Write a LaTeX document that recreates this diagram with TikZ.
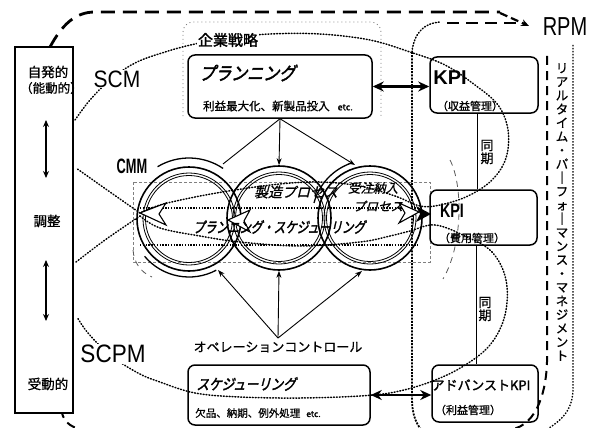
\documentclass[tikz,border=0pt]{standalone}
\usepackage{fontspec}
\usepackage{graphicx}
\setmainfont{Liberation Sans}
\newfontfamily\jp[FakeBold=0.8]{Noto Sans CJK JP}
\newfontfamily\jpb[FakeBold=1.8]{Noto Sans CJK JP}
\newfontfamily\jpbi[FakeBold=2.5,FakeSlant=0.3]{Noto Sans CJK JP}
\newfontfamily\jpi[FakeBold=0.8,FakeSlant=0.25]{Noto Sans CJK JP}
\usetikzlibrary{arrows.meta}
\newcommand\fsz[1]{\fontsize{#1}{#1}\selectfont}
\tikzset{
 bx/.style={draw, line width=1.5pt, rounded corners=7pt, inner sep=0pt},
 dotc/.style={line width=1.5pt, dash pattern=on 0.9pt off 2pt, line cap=round},
 bigdash/.style={line width=2.8pt, dash pattern=on 14pt off 8pt},
 thkdot/.style={line width=2.4pt, dash pattern=on 1.4pt off 1.4pt},
 dblarr/.style={line width=2.6pt, {Stealth[length=11pt,width=10pt]}-{Stealth[length=11pt,width=10pt]}},
 arr/.style={line width=0.9pt, -{Stealth[length=7pt,width=5pt]}},
 larr/.style={line width=1.3pt, {Stealth[length=7pt,width=6pt]}-{Stealth[length=7pt,width=6pt]}},
 ring/.style={circle, draw, line width=1.6pt, minimum size=104pt, inner sep=0pt},
 wtxt/.style={fill=white, inner sep=1pt},
}
\begin{document}
\begin{tikzpicture}[x=1pt,y=-1pt]
\useasboundingbox (0,0) rectangle (594,428);
\fill[white] (0,0) rectangle (594,428);

% ---------- large dashed boundary ----------
\draw[bigdash] (50,47) .. controls (62,25) and (75,12) .. (95,12) -- (500,12);
\draw[line width=2.2pt, dash pattern=on 8pt off 4pt, -{Stealth[length=8pt,width=7pt]}] (500,13) -- (529,26);
\draw[line width=2pt, dash pattern=on 9pt off 6pt] (547,56) -- (547,362) .. controls (546,395) and (535,430) .. (505,430) -- (90,430) .. controls (72,430) and (64,422) .. (62,413);

% ---------- RPM region ----------
\draw[line width=1.8pt, dash pattern=on 2pt off 1.2pt] (412,52) -- (412,398) .. controls (412,415) and (416,425) .. (425,434);
\draw[dotc] (412,52) .. controls (414,32) and (425,23) .. (440,22);
\draw[line width=1.3pt, dash pattern=on 12pt off 7pt] (447,23) -- (522,23);
\draw[line width=1.3pt, dash pattern=on 1.5pt off 1.5pt] (573,45) -- (573,388) .. controls (573,410) and (562,420) .. (546,430);

% ---------- planning region ----------
\draw[gray, line width=0.8pt, dash pattern=on 1pt off 3pt, rounded corners=10pt] (183,116) -- (183,22) -- (381,22) -- (381,116);

% ---------- CMM region ----------
\draw[gray, line width=0.5pt, dash pattern=on 3pt off 2pt] (133,182) rectangle (430,262);
\draw[gray!70!black, line width=0.8pt, dash pattern=on 6pt off 5pt] (450,160) .. controls (463,185) and (463,245) .. (443,279);
\draw[gray!70!black, line width=0.8pt, dash pattern=on 6pt off 5pt] (133,250) .. controls (134,262) and (140,272) .. (152,277);

% ---------- SCM / SCPM dotted curves ----------
\draw[dotc] plot[smooth, tension=0.6] coordinates {(75,120) (90,100) (110,80) (135,63) (165,52) (195,44) (230,38) (270,34) (320,34) (370,40) (410,52) (445,65) (475,85) (498,105) (508,130) (506,158) (492,180) (468,196) (440,205) (420,206) (395,196) (360,186) (320,182) (280,184) (235,190) (195,197) (160,205) (140,213)};
\draw[dotc] plot[smooth] coordinates {(140,213) (110,192) (76,168)};
\draw[dotc] plot[smooth] coordinates {(76,262) (105,240) (140,216)};
\draw[dotc] plot[smooth, tension=0.6] coordinates {(140,216) (160,228) (200,236) (240,242) (300,246) (360,242) (390,236) (410,231) (435,225) (465,236) (492,252) (506,280) (505,315) (490,345) (462,367) (430,382) (395,392) (360,396) (300,398) (240,397) (195,393) (160,382) (138,373) (110,355) (88,333) (77,317)};

% ---------- left box ----------
\node[draw, line width=1.6pt, minimum width=58pt, minimum height=366pt, inner sep=0pt] (lbox) at (44,230) {};
\node[font=\jp\fsz{13.5}] (jihatsu) at (48,72) {自発的};
\node[font=\jp\fsz{12.5}, anchor=west, inner sep=0pt] (noudou) at (20,88) {（能動的）};
\node[font=\jp\fsz{13.5}] (chousei) at (47,221) {調整};
\node[font=\jp\fsz{13.5}] (judou) at (48,384) {受動的};
\coordinate (a1t) at (46,120); \coordinate (a1b) at (46,178);
\coordinate (a2t) at (46,260); \coordinate (a2b) at (46,321);
\draw[larr] (a1t) -- (a1b);
\draw[larr] (a2t) -- (a2b);

% ---------- labels ----------
\node[wtxt, font=\fsz{21}] (scm) at (117,79) {\scalebox{1}[1.13]{SCM}};
\node[wtxt, font=\fsz{22.5}] (scpm) at (113,354) {\scalebox{1}[1.12]{SCPM}};
\node[font=\bfseries\fsz{16}] (cmm) at (132,166) {\scalebox{0.8}[1.3]{CMM}};
\node[wtxt, font=\fsz{20}] (rpm) at (565,27) {\scalebox{1}[1.3]{RPM}};
\node[wtxt, font=\jpb\fsz{15}] (senryaku) at (228,40) {企業戦略};

% ---------- circles ----------
\node[ring] (c1) at (189,219) {};
\node[ring] (c2) at (279,218) {};
\node[ring] (c3) at (370,218) {};
\foreach \c in {c1,c2,c3}{
  \draw[line width=0.8pt] (\c.center) circle[radius=46];
  \draw[line width=0.8pt] (\c.center) circle[radius=43.5];
}
\draw[line width=1.3pt] (c1.center) ++(239:61) arc[start angle=239, end angle=304, radius=61];
\draw[line width=1.3pt] (c1.center) ++(140:58) arc[start angle=140, end angle=62, radius=58];
\draw[line width=1.3pt] (c3.center) ++(195:58) arc[start angle=195, end angle=250, radius=58];
\draw[thkdot] (140,208) -- (418,208);
\draw[thkdot] (140,245) -- (418,245);
\draw[fill=white, line width=1.1pt] (140,213) -- (166,203) -- (159,214) -- (166,225) -- cycle;
\draw[fill=white, line width=1.1pt] (228,220) -- (250,210) -- (244,221) -- (250,232) -- cycle;
\draw[fill=white, line width=1.1pt] (419,212) -- (399,203) -- (405,213) -- (399,223) -- cycle;
\fill (431,214) -- (416,206) -- (420,214) -- (416,222) -- cycle;

\node[font=\jpi\fsz{14}] (seizou) at (296,192) {製造プロセス};
\node[font=\jpi\fsz{12.5}] (juchu) at (373,188) {受注納入};
\node[font=\jpi\fsz{12.5}] (juchu2) at (378,206) {プロセス};
\node[font=\jpbi\fsz{11.5}] (ps) at (279,227) {\scalebox{1}[1.3]{プランニング・スケジューリング}};

% ---------- planning / scheduling ----------
\node[bx, minimum width=184pt, minimum height=63pt] (plan) at (280,86.5) {};
\node[font=\jpbi\fsz{16}] (plantitle) at (247,73) {\scalebox{1}[1.15]{プランニング}};
\node[font=\jp\fsz{11.5}] (plantext) at (278,106) {利益最大化、新製品投入\hspace{8pt}{\fsz{9}etc.}};
\node[bx, minimum width=182pt, minimum height=60pt] (sched) at (279,395) {};
\node[font=\jpbi\fsz{12.5}] (schedtitle) at (246,384) {\scalebox{1}[1.2]{スケジューリング}};
\node[font=\jp\fsz{10.5}] (schedtext) at (258,413) {欠品、納期、例外処理\hspace{6pt}{\fsz{8.5}etc.}};
\node[font=\jp\fsz{13}] (oc) at (278,347) {オペレーションコントロール};

\coordinate (t1) at (223,164);
\coordinate (t3) at (355,165);
\draw[line width=0.9pt] (plan.south) -- (t1);
\draw[arr] (plan.south) -- (c2.north);
\draw[arr] (plan.south) -- (t3);
\coordinate (b1) at (218,270);
\coordinate (b3) at (362,271);
\draw[arr] (oc.north) -- (b1);
\draw[arr] (oc.north) -- (c2.south);
\draw[arr] (oc.north) -- (b3);

% ---------- KPI boxes ----------
\node[bx, minimum width=108pt, minimum height=56pt] (kpi1) at (484,85) {};
\node[font=\bfseries\fsz{20}] (kpi1a) at (450,78) {KPI};
\node[font=\jp\fsz{11}] (kpi1b) at (470,106) {（収益管理）};
\node[bx, minimum width=107pt, minimum height=55pt] (kpi2) at (483.5,217.5) {};
\node[font=\bfseries\fsz{15}] (kpi2a) at (452,211) {\scalebox{0.95}[1.3]{KPI}};
\node[font=\jp\fsz{11}] (kpi2b) at (472,238) {（費用管理）};
\node[bx, minimum width=106pt, minimum height=57pt] (kpi3) at (485,393.5) {};
\node[font=\jpb\fsz{13}] (kpi3a) at (481,385) {アドバンストKPI};
\node[font=\jp\fsz{11}] (kpi3b) at (468,410) {（利益管理）};

\draw[dblarr] (plan.east) -- (plan.east -| kpi1.west);
\draw[dblarr] (sched.east) -- (sched.east -| kpi3.west);
\draw[line width=1pt] ([xshift=-7pt]kpi1.south) -- ([xshift=-7pt]kpi1.south |- kpi2.north);
\draw[line width=1pt] ([xshift=-7pt]kpi2.south) -- ([xshift=-7pt]kpi2.south |- kpi3.north);
\node[font=\jp\fsz{13}, align=center, inner sep=0pt] (sync1) at (487,152) {同\\期};
\node[font=\jp\fsz{13}, align=center, inner sep=0pt] (sync2) at (485,309) {同\\期};

% ---------- vertical RPM text ----------
\node[font=\jp\fontsize{12.5}{13.7}\selectfont, align=center, inner sep=0pt] (rpmtxt) at (562,212)
 {リ\\ア\\ル\\タ\\イ\\ム\\・\\パ\\｜\\フ\\ォ\\｜\\マ\\ン\\ス\\・\\マ\\ネ\\ジ\\メ\\ン\\ト};
\end{tikzpicture}
\end{document}
